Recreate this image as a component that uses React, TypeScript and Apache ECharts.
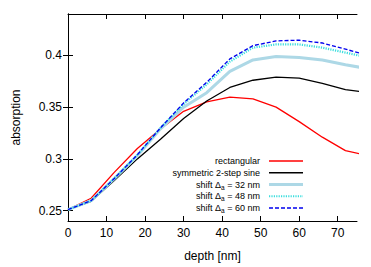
import React, { useEffect, useRef } from "react";
import * as echarts from "echarts";

const depth = [0, 6, 12, 18, 24, 30, 36, 42, 48, 54, 60, 66, 72, 78];
const rectangular = [0.251, 0.262, 0.287, 0.310, 0.329, 0.346, 0.355, 0.3597, 0.358, 0.350, 0.336, 0.321, 0.308, 0.303];
const symmetric2Step = [0.251, 0.259, 0.279, 0.300, 0.319, 0.339, 0.356, 0.369, 0.376, 0.379, 0.378, 0.373, 0.367, 0.364];
const shift32 = [0.251, 0.2596, 0.281, 0.303, 0.329, 0.350, 0.364, 0.3845, 0.3956, 0.3989, 0.398, 0.3956, 0.391, 0.387];
const shift48 = [0.251, 0.2596, 0.281, 0.304, 0.330, 0.353, 0.372, 0.394, 0.4075, 0.4106, 0.4106, 0.4075, 0.4027, 0.398];
const shift60 = [0.251, 0.2596, 0.281, 0.304, 0.330, 0.354, 0.374, 0.3966, 0.4094, 0.414, 0.4147, 0.412, 0.406, 0.400];
const xTicks = [0, 10, 20, 30, 40, 50, 60, 70];
const yTicks = [0.25, 0.3, 0.35, 0.4];

const FONT = "Liberation Sans, Arial, sans-serif";

const seriesDefs = [
  { name: "rectangular", label: "rectangular", values: rectangular, color: "#ff0000", width: 1.3, type: "solid" as any },
  { name: "symmetric 2-step sine", label: "symmetric 2-step sine", values: symmetric2Step, color: "#000000", width: 1.3, type: "solid" as any },
  { name: "shift Δa = 32 nm", label: "{n|shift Δ}{s|a}{n| = 32 nm}", values: shift32, color: "#add8e6", width: 3, type: "solid" as any },
  { name: "shift Δa = 48 nm", label: "{n|shift Δ}{s|a}{n| = 48 nm}", values: shift48, color: "#3cdede", width: 2.2, type: [1.2, 1.2] as any },
  { name: "shift Δa = 60 nm", label: "{n|shift Δ}{s|a}{n| = 60 nm}", values: shift60, color: "#0000ee", width: 1.3, type: [4, 2] as any },
];

export default function App() {
  const ref = useRef<HTMLDivElement>(null);
  useEffect(() => {
    const chart = echarts.init(ref.current!, null, { renderer: "svg" });
    const legendGraphics: any[] = [];
    seriesDefs.forEach((s, i) => {
      const y = 161 + i * 11.75;
      legendGraphics.push({
        type: "text",
        x: 260,
        y,
        style: {
          text: s.label,
          align: "right",
          verticalAlign: "middle",
          fontSize: 9,
          fontFamily: FONT,
          fill: "#000",
          rich: {
            n: { fontSize: 9, fontFamily: FONT, fill: "#000", lineHeight: 12 },
            s: { fontSize: 6.5, fontFamily: FONT, fill: "#000", lineHeight: 12, verticalAlign: "bottom", padding: [4, 0, 0, 0] },
          },
        },
      });
      legendGraphics.push({
        type: "line",
        shape: { x1: 269, y1: y, x2: 303, y2: y },
        style: { stroke: s.color, lineWidth: s.width, lineDash: s.type === "solid" ? null : s.type },
      });
    });
    const tickCommon = { show: true, inside: true, length: 5, lineStyle: { color: "#000" } };
    chart.setOption({
      animation: false,
      backgroundColor: "#fff",
      grid: { left: 68, right: 14, top: 14, bottom: 43, containLabel: false },
      xAxis: [
        {
          type: "value",
          min: 0,
          max: 75,
          name: "depth [nm]",
          nameLocation: "middle",
          nameGap: 29,
          nameTextStyle: { fontSize: 12, fontFamily: FONT, color: "#000" },
          axisLine: { show: true, lineStyle: { color: "#000", width: 1 } },
          axisTick: { ...tickCommon, customValues: xTicks },
          axisLabel: { fontSize: 12, fontFamily: FONT, color: "#000", margin: 6, customValues: xTicks },
          splitLine: { show: false },
        },
        {
          type: "value",
          position: "top",
          min: 0,
          max: 75,
          axisLine: { show: true, lineStyle: { color: "#000", width: 1 } },
          axisTick: { ...tickCommon, customValues: xTicks },
          axisLabel: { show: false },
          splitLine: { show: false },
        },
      ],
      yAxis: [
        {
          type: "value",
          min: 0.24,
          max: 0.44,
          name: "absorption",
          nameLocation: "middle",
          nameGap: 46,
          nameTextStyle: { fontSize: 12, fontFamily: FONT, color: "#000" },
          axisLine: { show: true, lineStyle: { color: "#000", width: 1 } },
          axisTick: { ...tickCommon, customValues: yTicks },
          axisLabel: { fontSize: 12, fontFamily: FONT, color: "#000", margin: 6, customValues: yTicks, formatter: (v: number) => String(+v.toFixed(2)) },
          splitLine: { show: false },
        },
        {
          type: "value",
          position: "right",
          min: 0.24,
          max: 0.44,
          axisLine: { show: true, lineStyle: { color: "#000", width: 1 } },
          axisTick: { ...tickCommon, customValues: yTicks },
          axisLabel: { show: false },
          splitLine: { show: false },
        },
      ],
      series: seriesDefs.map((s) => ({
        name: s.name,
        type: "line",
        xAxisIndex: 0,
        yAxisIndex: 0,
        symbol: "none",
        clip: true,
        data: depth.map((d, i) => [d, s.values[i]]),
        lineStyle: { color: s.color, width: s.width, type: s.type },
      })),
      graphic: legendGraphics,
    });
    return () => chart.dispose();
  }, []);
  return <div ref={ref} style={{ position: "absolute", left: 0, top: 0, width: 371, height: 267 }} />;
}
